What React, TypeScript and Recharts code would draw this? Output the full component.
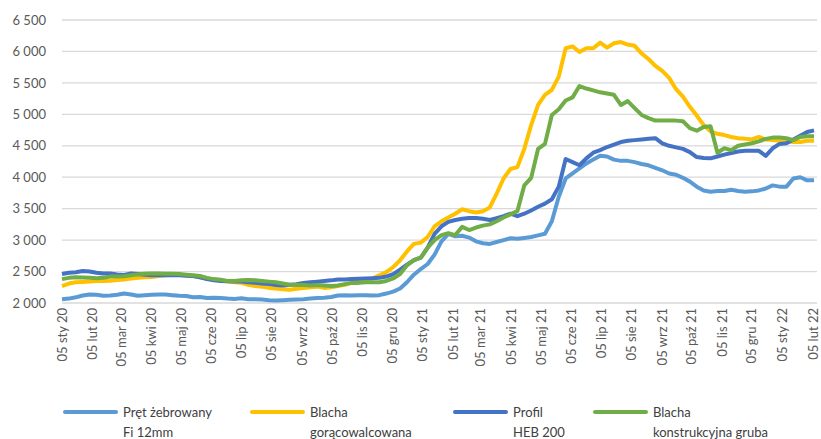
import React from 'react';
import { LineChart, Line, XAxis, YAxis, CartesianGrid, Legend } from 'recharts';

const monthLabels = [
  '05 sty 20', '05 lut 20', '05 mar 20', '05 kwi 20', '05 maj 20', '05 cze 20',
  '05 lip 20', '05 sie 20', '05 wrz 20', '05 paź 20', '05 lis 20', '05 gru 20',
  '05 sty 21', '05 lut 21', '05 mar 21', '05 kwi 21', '05 maj 21', '05 cze 21',
  '05 lip 21', '05 sie 21', '05 wrz 21', '05 paź 21', '05 lis 21', '05 gru 21',
  '05 sty 22', '05 lut 22',
];

const yTicks = [2000, 2500, 3000, 3500, 4000, 4500, 5000, 5500, 6000, 6500];

const pret = [
  2060, 2070, 2090, 2120, 2135, 2130, 2115, 2120, 2130, 2150,
  2135, 2115, 2125, 2130, 2135, 2135, 2125, 2115, 2110, 2090,
  2095, 2080, 2085, 2080, 2070, 2065, 2075, 2060, 2060, 2055,
  2045, 2040, 2045, 2050, 2055, 2060, 2070, 2080, 2085, 2095,
  2120, 2125, 2120, 2125, 2125, 2120, 2125, 2150, 2180, 2230,
  2330, 2450, 2540, 2620, 2770, 2980, 3100, 3060, 3070, 3040,
  2980, 2950, 2940, 2970, 3000, 3030, 3020, 3035, 3050, 3075,
  3100, 3300, 3690, 3980, 4060, 4140, 4220, 4280, 4340, 4330,
  4280, 4260, 4260, 4240, 4210, 4190, 4150, 4110, 4060, 4040,
  3990, 3930, 3850, 3790, 3770, 3780, 3780, 3800, 3780, 3770,
  3775, 3790, 3820, 3870, 3850, 3850, 3980, 4000, 3950, 3950,
];

const blachaGor = [
  2270, 2310, 2330, 2335, 2340, 2350, 2350, 2355, 2365, 2375,
  2390, 2400, 2410, 2415, 2430, 2440, 2445, 2450, 2440, 2430,
  2410, 2390, 2370, 2360, 2340, 2330, 2320, 2290, 2270, 2260,
  2240, 2230, 2220, 2210, 2225, 2240, 2250, 2260, 2240, 2250,
  2270, 2290, 2320, 2340, 2360, 2390, 2440, 2490, 2570, 2680,
  2820, 2940, 2960, 3050, 3220, 3300, 3360, 3420, 3490, 3460,
  3440, 3460, 3520, 3740, 3980, 4130, 4160, 4450, 4830, 5150,
  5310, 5390, 5600, 6050, 6080, 5990, 6050, 6050, 6140, 6060,
  6130, 6150, 6110, 6090, 5970, 5880, 5770, 5690, 5580, 5400,
  5280, 5120, 4980, 4830, 4730, 4690, 4670, 4640, 4620, 4610,
  4600, 4640, 4600, 4590, 4580, 4570, 4560, 4560, 4580, 4580,
];

const profil = [
  2460, 2480, 2490, 2510, 2500, 2480, 2470, 2470, 2455, 2445,
  2470, 2460, 2450, 2440, 2445, 2440, 2440, 2440, 2435, 2430,
  2410, 2380, 2360, 2350, 2345, 2340, 2340, 2330, 2320, 2310,
  2300, 2285, 2280, 2290, 2300, 2320, 2330, 2340, 2350, 2360,
  2375, 2375, 2380, 2385, 2390, 2395, 2400, 2420, 2460, 2530,
  2610, 2680, 2720, 2880, 3100, 3220, 3290, 3320, 3340, 3350,
  3350, 3340, 3320, 3350, 3380, 3420, 3380, 3420, 3470, 3530,
  3580, 3650, 3850, 4290, 4240, 4190, 4300, 4390, 4430, 4480,
  4520, 4560, 4580, 4590, 4600, 4610, 4620, 4540, 4500, 4475,
  4450, 4400, 4320, 4305, 4300, 4330, 4360, 4385, 4410, 4420,
  4420, 4420, 4340, 4460, 4530, 4540, 4600, 4660, 4720, 4745,
];

const blachaKon = [
  2380, 2400, 2410, 2405, 2400, 2395, 2400, 2420, 2420, 2425,
  2440, 2455, 2465, 2470, 2470, 2465, 2465, 2460, 2450, 2440,
  2430, 2400, 2380, 2370, 2350, 2350, 2360, 2365, 2360, 2350,
  2340, 2330, 2310, 2290, 2285, 2285, 2280, 2285, 2280, 2270,
  2280, 2300, 2320, 2320, 2330, 2330, 2330, 2350, 2390, 2460,
  2600, 2680, 2720, 2880, 3000, 3080, 3110, 3080, 3210, 3160,
  3200, 3230, 3250, 3300, 3360, 3410, 3460, 3870, 3990, 4450,
  4530, 4990, 5080, 5220, 5270, 5450, 5410, 5380, 5350, 5330,
  5310, 5150, 5210, 5100, 4990, 4940, 4900, 4900, 4900, 4900,
  4890, 4780, 4740, 4800, 4810, 4390, 4460, 4430, 4500, 4520,
  4540, 4570, 4610, 4630, 4630, 4620, 4590, 4640, 4650, 4650,
];

const seriesNames = [
  ['Pręt żebrowany', 'Fi 12mm'],
  ['Blacha', 'gorącowalcowana'],
  ['Profil', 'HEB 200'],
  ['Blacha', 'konstrukcyjna gruba'],
];
const seriesColors = ['#5B9BD5', '#FFC000', '#4472C4', '#70AD47'];
const seriesKeys = ['pret', 'blachaGor', 'profil', 'blachaKon'];

const DAY = 86400000;
const start = Date.UTC(2020, 0, 5);
const monthDays = monthLabels.map((_, m) => Math.round((Date.UTC(2020, m, 5) - start) / DAY));

const data = pret.map((v, i) => ({
  day: i * 7,
  pret: v,
  blachaGor: blachaGor[i],
  profil: profil[i],
  blachaKon: blachaKon[i],
}));

const FONT = 'Lato, "Liberation Sans", sans-serif';

const fmt = (v: number) => {
  const s = String(v);
  return s.length > 3 ? s.slice(0, s.length - 3) + ' ' + s.slice(-3) : s;
};

const XTick = (props: any) => {
  const { x, y, payload } = props;
  const idx = monthDays.indexOf(payload.value);
  const label = idx >= 0 ? monthLabels[idx] : '';
  return (
    <text
      x={x}
      y={y}
      dy="0.35em"
      transform={`rotate(-90, ${x}, ${y})`}
      textAnchor="end"
      fill="#595959"
      fontSize={13}
      fontFamily={FONT}
    >
      {label}
    </text>
  );
};

const legendLefts = [63, 250, 453, 593];

const renderLegend = () => (
  <div style={{ position: 'relative', width: 821, height: 40, fontFamily: FONT, fontSize: 13, color: '#404040' }}>
    {seriesNames.map((lines, i) => (
      <div key={i} style={{ position: 'absolute', left: legendLefts[i], top: 3, display: 'flex', alignItems: 'flex-start' }}>
        <div style={{ width: 55, height: 4, borderRadius: 2, background: seriesColors[i], marginTop: 8, marginRight: 5 }} />
        <div style={{ lineHeight: '20px', whiteSpace: 'nowrap' }}>
          <div>{lines[0]}</div>
          <div>{lines[1]}</div>
        </div>
      </div>
    ))}
  </div>
);

export default function App() {
  return (
    <div style={{ position: 'absolute', left: 0, top: 0, width: 821, height: 439, background: '#fff' }}>
      <LineChart width={821} height={439} data={data} margin={{ top: 20, right: 4, left: 0, bottom: 0 }}>
        <CartesianGrid vertical={false} stroke="#D9D9D9" strokeWidth={1.3} />
        <XAxis
          type="number"
          dataKey="day"
          domain={[0, 766]}
          ticks={monthDays}
          interval={0}
          tick={<XTick />}
          tickLine={false}
          axisLine={false}
          height={96}
          tickMargin={0}
          tickSize={5}
        />
        <YAxis
          type="number"
          domain={[2000, 6500]}
          ticks={yTicks}
          tickFormatter={fmt}
          tickLine={false}
          axisLine={false}
          width={62}
          tickMargin={10}
          tick={{ fill: '#595959', fontSize: 13, fontFamily: FONT }}
        />
        <Legend verticalAlign="bottom" content={renderLegend} />
        {seriesKeys.map((k, i) => (
          <Line
            key={k}
            dataKey={k}
            name={seriesNames[i].join(' ')}
            stroke={seriesColors[i]}
            strokeWidth={4}
            dot={false}
            type="linear"
            strokeLinejoin="round"
            isAnimationActive={false}
          />
        ))}
      </LineChart>
    </div>
  );
}
